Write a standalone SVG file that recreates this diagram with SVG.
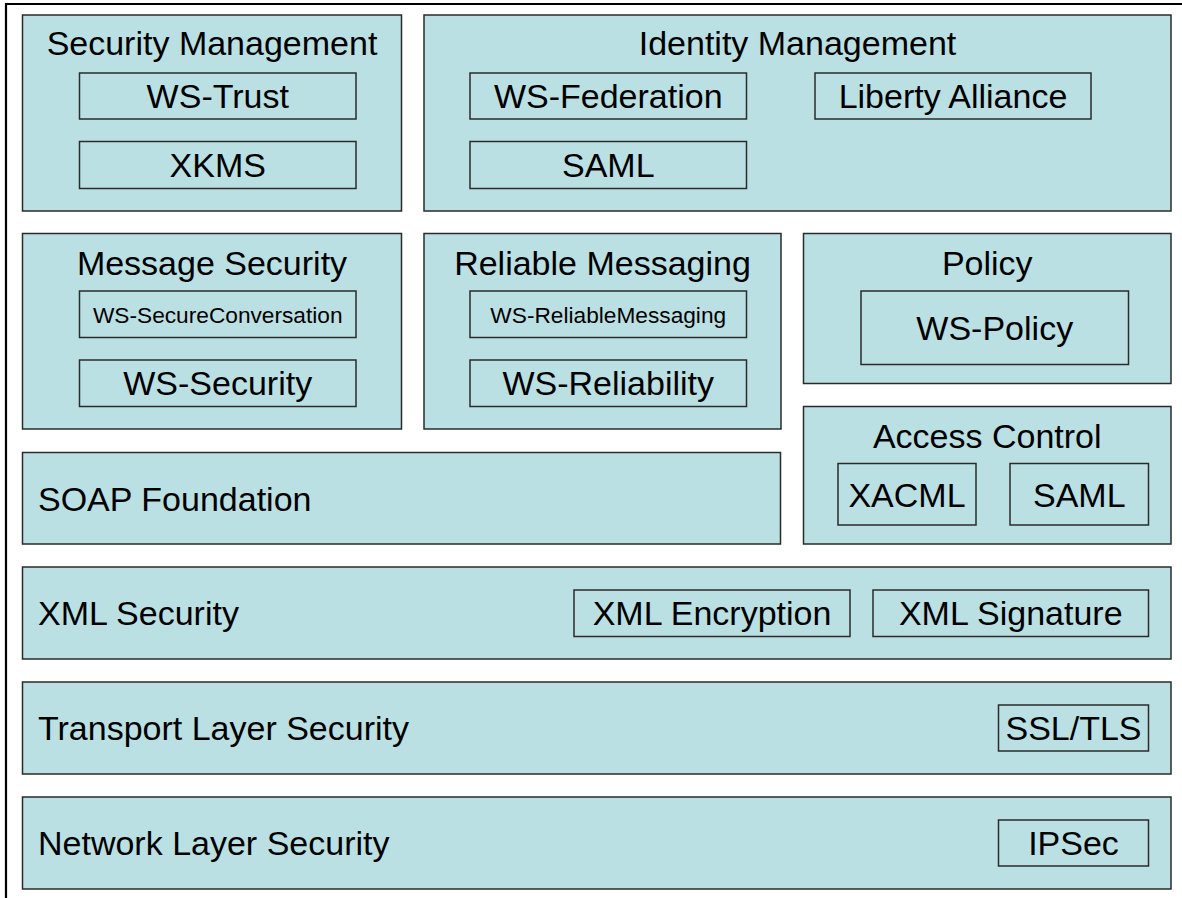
<svg xmlns="http://www.w3.org/2000/svg" width="1182" height="898" viewBox="0 0 1182 898">
<style>
.box{fill:#BBE0E3;stroke:#2b2b2b;stroke-width:1.5}
.inner{fill:none;stroke:#2b2b2b;stroke-width:1.5}
text{font-family:"Liberation Sans",Arial,sans-serif;font-size:34px;fill:#000}
.c{text-anchor:middle}
.s{font-size:22.7px}
</style>
<rect width="1182" height="898" fill="#fff"/>
<path d="M6,898 V4 H1182" fill="none" stroke="#000" stroke-width="2.2"/>
<g id="security-management">
<rect class="box" x="22.5" y="15" width="379" height="196"/>
<text class="c" x="212" y="55">Security Management</text>
<rect class="inner" x="79.5" y="73" width="276.5" height="46"/>
<text class="c" x="217.75" y="108">WS-Trust</text>
<rect class="inner" x="79.5" y="141.5" width="276.5" height="47"/>
<text class="c" x="217.75" y="176.5">XKMS</text>
</g>
<g id="identity-management">
<rect class="box" x="424" y="15" width="747" height="196"/>
<text class="c" x="797.5" y="55">Identity Management</text>
<rect class="inner" x="470" y="73" width="276.5" height="46"/>
<text class="c" x="608.25" y="108">WS-Federation</text>
<rect class="inner" x="815" y="73" width="276" height="46"/>
<text class="c" x="953" y="108">Liberty Alliance</text>
<rect class="inner" x="470" y="141.5" width="276.5" height="47"/>
<text class="c" x="608.25" y="176.5">SAML</text>
</g>
<g id="message-security">
<rect class="box" x="22.5" y="233.5" width="379" height="195.5"/>
<text class="c" x="212" y="275">Message Security</text>
<rect class="inner" x="79.5" y="291" width="276.5" height="46.5"/>
<text class="c s" x="217.75" y="323.3">WS-SecureConversation</text>
<rect class="inner" x="79.5" y="360" width="276.5" height="46.5"/>
<text class="c" x="217.75" y="395">WS-Security</text>
</g>
<g id="reliable-messaging">
<rect class="box" x="424" y="233.5" width="357" height="195.5"/>
<text class="c" x="602.5" y="275">Reliable Messaging</text>
<rect class="inner" x="470" y="291" width="276.5" height="46.5"/>
<text class="c s" x="608.25" y="323.3">WS-ReliableMessaging</text>
<rect class="inner" x="470" y="360" width="276.5" height="46.5"/>
<text class="c" x="608.25" y="395">WS-Reliability</text>
</g>
<g id="policy">
<rect class="box" x="803.5" y="233.5" width="367.5" height="150"/>
<text class="c" x="987.25" y="275">Policy</text>
<rect class="inner" x="861" y="291" width="267.5" height="73.5"/>
<text class="c" x="994.75" y="340">WS-Policy</text>
</g>
<g id="access-control">
<rect class="box" x="803.5" y="406.5" width="367.5" height="137.5"/>
<text class="c" x="987.25" y="448">Access Control</text>
<rect class="inner" x="838" y="463.5" width="138" height="61.5"/>
<text class="c" x="907" y="506.5">XACML</text>
<rect class="inner" x="1010" y="463.5" width="138.5" height="61.5"/>
<text class="c" x="1079.25" y="506.5">SAML</text>
</g>
<g id="soap-foundation">
<rect class="box" x="22.5" y="452.5" width="758" height="91.5"/>
<text x="38" y="511">SOAP Foundation</text>
</g>
<g id="xml-security">
<rect class="box" x="22.5" y="567" width="1148.5" height="92"/>
<text x="38" y="625">XML Security</text>
<rect class="inner" x="574" y="590" width="276" height="46.5"/>
<text class="c" x="712" y="625">XML Encryption</text>
<rect class="inner" x="873" y="590" width="275.5" height="46.5"/>
<text class="c" x="1010.75" y="625">XML Signature</text>
</g>
<g id="transport-layer-security">
<rect class="box" x="22.5" y="682" width="1148.5" height="92"/>
<text x="38" y="740">Transport Layer Security</text>
<rect class="inner" x="998.5" y="705" width="150" height="46"/>
<text class="c" x="1073.5" y="740">SSL/TLS</text>
</g>
<g id="network-layer-security">
<rect class="box" x="22.5" y="797" width="1148.5" height="92"/>
<text x="38" y="855">Network Layer Security</text>
<rect class="inner" x="998.5" y="820" width="150" height="46"/>
<text class="c" x="1073.5" y="855">IPSec</text>
</g>
<g id="connectors"/>
</svg>
